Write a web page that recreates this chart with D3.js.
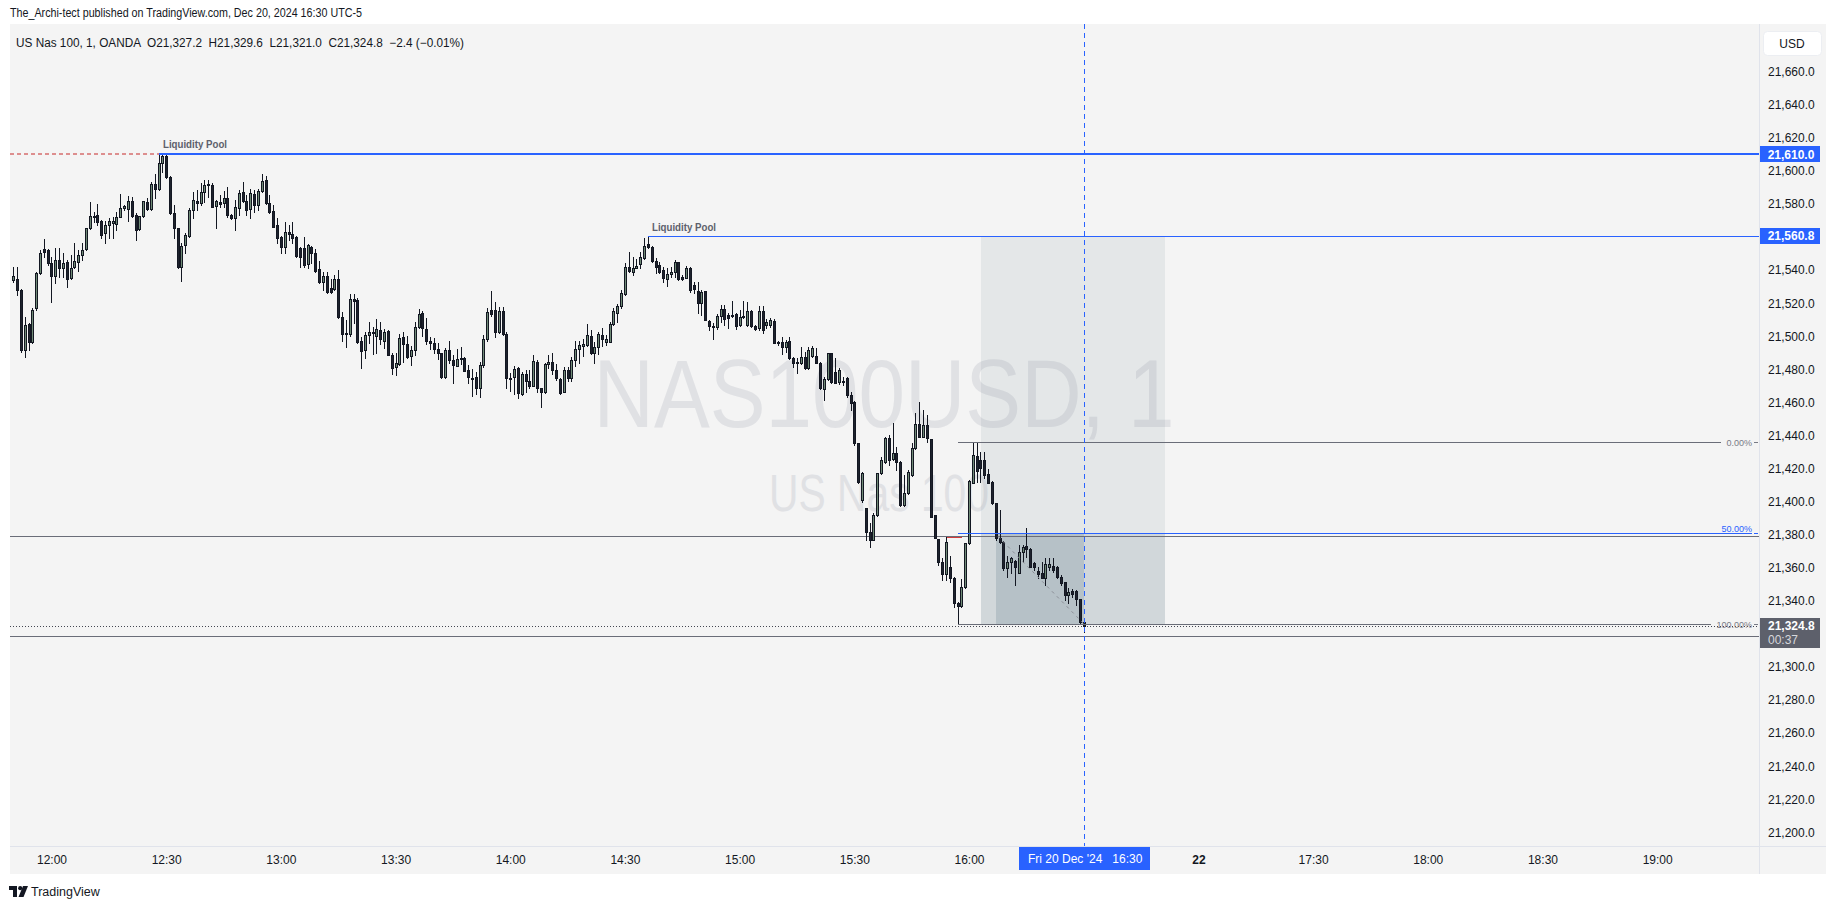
<!DOCTYPE html>
<html><head><meta charset="utf-8">
<script src="https://cdn.jsdelivr.net/npm/d3@7/dist/d3.min.js"></script>
<style>html,body{margin:0;padding:0;background:#fff;}svg{display:block;}</style>
</head><body>
<svg id="c" width="1835" height="909"></svg>
<script>
// ---------- DATA ----------
const startMinute = 710; // 11:50, one candle per minute
const open = [21534.0,21534.5,21528.0,21491.7,21507.2,21496.8,21516.9,21538.1,21552.8,21552.2,
21544.1,21536.7,21546.1,21541.5,21544.7,21535.1,21542.1,21545.1,21549.2,21552.8,
21565.3,21572.5,21573.4,21569.7,21562.3,21567.3,21568.3,21567.7,21572.4,21577.4,
21576.8,21581.8,21573.4,21564.7,21573.0,21581.0,21576.8,21591.9,21588.9,21604.6,
21609.0,21596.6,21574.4,21565.3,21542.1,21555.2,21560.9,21576.4,21581.8,21580.4,
21587.0,21591.3,21591.5,21579.0,21581.4,21580.8,21583.4,21573.3,21571.7,21577.4,
21587.5,21582.0,21576.8,21586.0,21579.4,21587.7,21594.5,21580.4,21575.8,21567.3,
21559.8,21554.2,21562.8,21561.6,21559.8,21553.2,21553.2,21543.5,21553.8,21550.2,
21540.5,21533.0,21536.4,21529.0,21528.4,21534.4,21511.5,21501.6,21501.2,21522.3,
21521.9,21497.1,21491.7,21500.8,21501.8,21500.4,21503.8,21497.3,21503.2,21488.7,
21481.6,21483.0,21499.3,21495.1,21488.2,21491.7,21505.8,21513.8,21504.2,21497.3,
21496.1,21492.3,21489.7,21475.5,21491.7,21485.6,21482.2,21487.0,21487.0,21479.6,
21474.8,21475.1,21468.5,21482.6,21498.3,21515.9,21515.9,21502.8,21515.3,21501.4,
21474.5,21475.1,21480.6,21465.1,21477.2,21472.9,21470.1,21484.6,21468.5,21466.5,
21483.2,21484.2,21479.6,21473.9,21466.5,21479.6,21475.0,21485.6,21492.1,21494.1,
21494.5,21500.1,21489.7,21493.3,21500.7,21496.3,21496.7,21507.2,21514.3,21518.3,
21525.5,21541.7,21539.1,21541.1,21543.5,21547.1,21555.8,21553.8,21545.7,21543.1,
21540.1,21534.6,21537.4,21539.1,21544.7,21535.6,21535.0,21541.1,21531.0,21527.6,
21519.9,21527.4,21509.2,21506.2,21505.8,21512.4,21516.5,21512.8,21512.9,21513.2,
21506.8,21511.8,21506.8,21515.5,21506.2,21504.8,21515.5,21506.8,21506.8,21509.2,
21496.1,21496.7,21493.3,21497.1,21487.0,21484.0,21484.0,21487.6,21480.6,21488.0,
21488.2,21484.0,21467.9,21473.9,21489.7,21478.6,21472.5,21472.8,21474.6,21464.5,
21460.4,21435.2,21401.0,21395.9,21381.8,21376.8,21391.9,21417.5,21424.2,21438.3,
21425.6,21429.2,21424.2,21398.0,21405.0,21416.1,21432.2,21446.7,21439.3,21446.3,
21437.7,21391.9,21377.2,21363.7,21356.0,21360.2,21353.6,21338.5,21337.1,21348.6,
21374.8,21411.5,21427.6,21425.2,21425.2,21416.5,21412.1,21399.0,21377.8,21375.8,
21360.0,21363.3,21364.1,21357.0,21369.3,21373.1,21371.1,21362.7,21358.0,21357.0,
21354.0,21360.6,21361.3,21360.2,21354.6,21351.4,21343.5,21345.9,21345.9,21340.9,
21327.2];
const high = [21542.1,21541.7,21528.5,21511.9,21508.0,21516.9,21539.0,21552.2,21558.9,21553.0,
21548.2,21553.2,21553.2,21550.2,21546.0,21549.2,21556.2,21552.2,21556.2,21565.3,
21581.0,21575.4,21579.8,21570.3,21569.7,21571.3,21572.4,21575.4,21585.9,21579.4,
21585.1,21584.5,21574.4,21573.0,21582.0,21583.4,21593.1,21598.0,21610.0,21609.6,
21609.6,21597.0,21579.4,21565.5,21556.2,21562.3,21577.4,21587.5,21588.5,21592.5,
21594.5,21594.5,21592.5,21582.4,21585.4,21588.0,21590.0,21574.0,21582.4,21588.5,
21593.0,21585.4,21589.0,21588.5,21588.9,21598.1,21596.9,21585.4,21579.4,21571.3,
21560.6,21569.3,21567.3,21569.3,21560.6,21554.2,21559.8,21555.6,21554.6,21552.6,
21545.5,21539.1,21539.1,21534.4,21537.1,21540.1,21514.5,21509.8,21525.6,21525.6,
21522.9,21499.8,21502.8,21508.4,21505.8,21510.4,21508.4,21504.4,21503.8,21489.7,
21489.7,21501.1,21502.4,21500.1,21494.3,21508.8,21516.5,21515.3,21510.8,21499.7,
21498.7,21495.7,21490.0,21492.7,21497.1,21488.7,21492.3,21493.7,21487.6,21482.6,
21480.0,21478.6,21484.6,21500.7,21516.9,21527.6,21520.9,21517.5,21517.5,21502.8,
21477.6,21482.0,21481.6,21478.6,21479.6,21479.6,21488.7,21485.6,21468.9,21484.0,
21488.7,21489.7,21483.2,21474.5,21481.6,21481.6,21487.6,21497.3,21497.3,21498.1,
21507.4,21503.8,21496.7,21502.8,21505.2,21500.7,21508.8,21516.9,21519.3,21528.0,
21544.1,21551.1,21547.7,21546.7,21551.1,21559.2,21560.8,21554.6,21547.1,21545.1,
21542.1,21541.1,21542.1,21546.1,21545.1,21537.0,21542.5,21542.1,21533.0,21532.6,
21528.0,21527.6,21509.8,21507.8,21513.4,21518.9,21518.9,21513.8,21521.3,21514.3,
21515.9,21521.5,21520.9,21515.9,21506.8,21518.3,21518.3,21510.2,21510.8,21510.2,
21497.3,21499.7,21497.7,21499.7,21487.6,21486.6,21493.7,21490.7,21493.7,21494.1,
21492.7,21484.2,21475.5,21490.1,21490.1,21486.6,21481.0,21475.5,21475.5,21466.5,
21461.0,21435.5,21418.1,21396.0,21386.9,21392.9,21417.5,21427.2,21439.3,21440.3,
21447.3,21433.2,21424.5,21416.1,21419.1,21435.2,21453.4,21460.4,21455.4,21452.4,
21438.0,21392.0,21377.5,21365.7,21378.8,21367.3,21354.6,21339.0,21353.2,21375.0,
21413.1,21436.2,21436.2,21430.2,21430.2,21419.7,21412.5,21399.2,21394.9,21376.0,
21367.3,21366.7,21364.7,21373.8,21373.8,21383.8,21371.7,21363.7,21360.2,21363.7,
21365.7,21366.1,21365.7,21361.1,21355.6,21351.6,21347.5,21346.9,21346.5,21341.0,
21329.6];
const low = [21533.0,21525.0,21490.3,21487.7,21491.7,21496.0,21516.0,21537.5,21548.2,21543.1,
21521.0,21532.0,21536.1,21536.1,21530.0,21534.5,21541.5,21539.5,21546.1,21552.0,
21565.0,21569.3,21567.3,21559.3,21556.2,21559.3,21559.3,21564.3,21572.0,21576.4,
21569.7,21572.4,21558.2,21564.0,21572.0,21576.4,21576.4,21583.4,21588.5,21599.6,
21595.5,21574.0,21559.3,21541.5,21533.4,21550.2,21560.3,21571.4,21576.4,21579.4,
21581.4,21584.4,21578.0,21565.3,21578.0,21578.4,21572.3,21571.0,21564.3,21573.3,
21581.4,21573.3,21571.3,21575.0,21576.4,21587.5,21580.0,21574.4,21566.0,21556.6,
21550.6,21550.2,21558.2,21556.6,21548.0,21542.1,21541.7,21541.1,21544.5,21539.1,
21532.0,21528.0,21526.0,21526.0,21528.0,21510.9,21497.3,21493.7,21500.4,21507.8,
21496.1,21480.6,21486.7,21495.7,21489.3,21489.7,21495.3,21493.1,21488.5,21477.2,
21476.6,21482.6,21484.6,21486.6,21482.6,21488.7,21504.8,21500.3,21495.3,21492.1,
21489.7,21486.0,21475.0,21475.0,21484.0,21471.5,21482.2,21483.2,21479.0,21471.9,
21464.1,21465.1,21463.5,21481.6,21497.3,21512.2,21499.3,21502.2,21501.0,21468.9,
21467.1,21465.1,21462.4,21464.5,21466.5,21468.5,21470.0,21466.5,21457.4,21465.9,
21480.6,21477.2,21473.5,21465.1,21466.0,21473.1,21473.1,21482.0,21483.6,21488.1,
21494.1,21489.3,21484.0,21489.3,21494.0,21494.7,21496.3,21506.8,21508.8,21516.9,
21524.9,21539.1,21537.0,21541.1,21541.1,21546.7,21553.2,21545.1,21538.1,21538.1,
21533.0,21530.4,21535.6,21535.6,21534.0,21534.0,21535.0,21527.0,21526.0,21514.3,
21512.8,21509.6,21503.8,21498.1,21504.4,21508.8,21506.8,21504.8,21511.8,21504.4,
21506.2,21510.8,21506.2,21505.8,21503.8,21503.8,21502.2,21504.8,21505.8,21495.7,
21494.5,21489.1,21490.7,21486.4,21481.6,21477.6,21483.2,21480.0,21480.4,21487.6,
21483.6,21468.3,21461.4,21473.5,21472.0,21471.5,21471.0,21470.5,21463.5,21455.4,
21434.2,21411.1,21400.0,21376.8,21372.8,21376.5,21391.5,21417.0,21423.2,21422.1,
21425.2,21419.1,21397.5,21397.5,21404.5,21415.7,21432.0,21439.0,21439.0,21436.3,
21390.5,21377.8,21361.7,21352.6,21352.6,21351.6,21336.5,21325.8,21336.0,21348.0,
21374.5,21411.1,21412.1,21412.1,21414.1,21411.1,21398.6,21376.8,21374.8,21358.6,
21354.6,21357.0,21349.6,21356.6,21363.7,21366.7,21360.2,21358.6,21354.0,21353.6,
21349.6,21358.6,21357.6,21353.6,21349.6,21340.5,21338.5,21342.5,21337.5,21326.4,
21321.0];
const close = [21536.7,21528.0,21491.7,21506.8,21496.8,21515.9,21538.1,21550.2,21550.8,21544.1,
21536.7,21546.1,21541.1,21544.1,21534.5,21541.5,21545.5,21549.2,21552.0,21565.3,
21572.8,21573.0,21569.3,21561.3,21567.3,21569.7,21570.0,21572.2,21577.4,21578.8,
21581.8,21573.0,21564.3,21572.8,21581.8,21576.8,21591.9,21588.9,21604.6,21609.0,
21596.6,21574.4,21565.3,21542.1,21554.6,21561.3,21576.4,21582.4,21580.4,21587.5,
21591.5,21591.9,21578.4,21582.0,21579.8,21583.4,21573.3,21571.7,21578.4,21586.9,
21582.0,21576.4,21586.4,21579.4,21587.7,21593.7,21580.4,21575.4,21566.3,21559.2,
21554.2,21563.2,21561.6,21559.2,21548.5,21548.1,21543.1,21555.2,21550.2,21539.7,
21533.0,21536.4,21527.0,21527.0,21534.4,21511.9,21501.2,21501.8,21522.3,21521.5,
21496.7,21491.3,21500.8,21502.4,21502.8,21504.4,21498.1,21502.4,21488.7,21481.0,
21483.6,21498.7,21495.1,21487.6,21491.7,21505.8,21513.2,21504.8,21497.3,21496.1,
21492.3,21489.7,21475.5,21491.7,21485.6,21482.6,21486.0,21486.4,21479.2,21475.5,
21474.5,21468.5,21482.6,21498.3,21514.5,21513.2,21502.8,21515.3,21501.2,21474.5,
21474.8,21480.0,21465.5,21477.2,21473.1,21470.1,21485.0,21468.5,21466.5,21483.2,
21484.6,21479.6,21474.5,21465.9,21479.6,21475.0,21485.6,21492.3,21494.7,21495.3,
21500.7,21489.7,21493.3,21501.4,21498.1,21498.3,21507.4,21515.5,21518.3,21526.0,
21541.7,21539.7,21541.1,21542.7,21547.7,21554.6,21553.8,21545.7,21542.1,21539.1,
21535.0,21537.6,21539.1,21545.1,21534.4,21534.4,21541.1,21528.0,21528.6,21519.9,
21527.0,21509.8,21506.4,21505.4,21512.4,21516.5,21510.4,21510.8,21512.8,21506.2,
21511.4,21512.5,21515.5,21506.4,21504.2,21515.5,21503.8,21508.8,21509.8,21496.1,
21496.3,21493.7,21496.7,21486.6,21484.0,21484.2,21487.6,21480.6,21491.7,21492.7,
21484.0,21468.5,21473.9,21489.7,21472.5,21471.9,21479.6,21472.3,21464.5,21459.5,
21435.2,21412.1,21417.1,21381.8,21376.8,21391.9,21417.1,21425.2,21438.3,21425.2,
21429.2,21424.2,21398.0,21405.0,21418.1,21432.2,21446.7,21439.3,21446.3,21438.3,
21390.9,21378.2,21363.7,21356.0,21375.8,21353.6,21338.5,21337.0,21348.2,21374.8,
21412.7,21428.2,21418.7,21420.1,21416.1,21411.5,21399.0,21377.8,21375.8,21360.0,
21363.3,21365.7,21360.6,21369.3,21372.3,21371.1,21360.6,21360.6,21356.0,21354.0,
21362.1,21362.3,21358.6,21354.2,21351.0,21343.5,21345.5,21344.1,21340.9,21327.0,
21324.8];

const priceTicks = [21200,21220,21240,21260,21280,21300,21340,21360,21380,21400,21420,21440,
  21460,21480,21500,21520,21540,21580,21600,21620,21640,21660];
const timeTicks = [720,750,780,810,840,870,900,930,960,1020,1050,1080,1110,1140];
const timeLabels = {1020:"22"};

const liquidityPools = [ {price:21610.0, fromBar:38, width:2, tag:"21,610.0"},
                         {price:21560.8, fromBar:166, width:1, tag:"21,560.8"} ];
const fibHigh = 21436.2, fibLow = 21325.8, fibFromBar = 247;
const fibLevels = [0, 0.5, 1];
const refLines = [21379.2, 21318.5];
const lastPrice = 21324.8, countdown = "00:37", cursorMinute = 990;
const boxFromMinute = 963.1, boxToMinute = 1011.2, boxTop = 21560.8;
const innerFromMinute = 967.0;

// ---------- LAYOUT ----------
const FONT = '"Liberation Sans", Arial, sans-serif';
const P = {l:10, r:1759, t:24, b:846};
const svg = d3.select("#c").attr("font-family", FONT);
const x = d3.scaleLinear().domain([709.145, 1166.64]).range([P.l, P.r]);
const y = d3.scaleLinear().domain([21191.72, 21688.85]).range([P.b, P.t]);
const barX = i => Math.round(x(startMinute + i));
const Y = p => Math.round(y(p)) + 0.5;

svg.append("rect").attr("width",1835).attr("height",909).attr("fill","#ffffff");
svg.append("rect").attr("x",10).attr("y",24).attr("width",1816).attr("height",850).attr("fill","#f4f4f4");

// header texts
svg.append("text").attr("x",10).attr("y",17).attr("font-size",12).attr("fill","#131722")
  .attr("textLength",352).attr("lengthAdjust","spacingAndGlyphs")
  .text("The_Archi-tect published on TradingView.com, Dec 20, 2024 16:30 UTC-5");

const clip = svg.append("clipPath").attr("id","pc").append("rect")
  .attr("x",P.l).attr("y",P.t).attr("width",P.r-P.l).attr("height",P.b-P.t);
const g = svg.append("g").attr("clip-path","url(#pc)");

// watermark
g.append("text").attr("x",884).attr("y",427).attr("text-anchor","middle").attr("font-size",97)
  .attr("fill","#e0e1e4").attr("textLength",581).attr("lengthAdjust","spacingAndGlyphs").text("NAS100USD, 1");
g.append("text").attr("x",879).attr("y",511).attr("text-anchor","middle").attr("font-size",52)
  .attr("fill","#e0e1e4").attr("textLength",220).attr("lengthAdjust","spacingAndGlyphs").text("US Nas 100");

// legend
svg.append("text").attr("x",16).attr("y",47).attr("font-size",12).attr("fill","#131722")
  .style("white-space","pre").attr("textLength",448).attr("lengthAdjust","spacingAndGlyphs")
  .text("US Nas 100, 1, OANDA  O21,327.2  H21,329.6  L21,321.0  C21,324.8  \u22122.4 (\u22120.01%)");

// shaded boxes
const bx0 = Math.round(x(boxFromMinute)), bx1 = Math.round(x(boxToMinute));
const bxi = Math.round(x(innerFromMinute)), bxc = Math.round(x(cursorMinute));
const fibMid = fibLow + (fibHigh-fibLow)*0.5;
g.append("rect").attr("x",bx0).attr("y",Math.round(y(boxTop))).attr("width",bx1-bx0)
  .attr("height",Math.round(y(fibLow))-Math.round(y(boxTop))).attr("fill","rgba(120,144,156,0.13)");
g.append("rect").attr("x",bx0).attr("y",Math.round(y(fibMid))).attr("width",bx1-bx0)
  .attr("height",Math.round(y(fibLow))-Math.round(y(fibMid))).attr("fill","rgba(120,144,156,0.18)");
g.append("rect").attr("x",bxi).attr("y",Math.round(y(fibMid))).attr("width",bxc-bxi)
  .attr("height",Math.round(y(fibLow))-Math.round(y(fibMid))).attr("fill","rgba(120,144,156,0.30)");

// reference lines
refLines.forEach(p => g.append("line").attr("x1",P.l).attr("x2",P.r).attr("y1",Y(p)).attr("y2",Y(p))
  .attr("stroke","#6a6d78").attr("stroke-width",1));
g.append("line").attr("x1",P.l).attr("x2",P.r).attr("y1",Y(lastPrice)).attr("y2",Y(lastPrice))
  .attr("stroke","#434651").attr("stroke-dasharray","1,2");

// candles
const idx = d3.range(open.length);
const cg = g.append("g");
cg.selectAll("line.w").data(idx).join("line").attr("class","w")
  .attr("x1",i=>barX(i)+0.5).attr("x2",i=>barX(i)+0.5)
  .attr("y1",i=>Math.round(y(high[i]))).attr("y2",i=>Math.round(y(low[i]))+1)
  .attr("stroke","#131722").attr("stroke-width",1);
cg.selectAll("rect.b").data(idx).join("rect").attr("class","b")
  .attr("x",i=>barX(i)-0.5).attr("width",2)
  .attr("y",i=>Math.round(y(Math.max(open[i],close[i])))+0.5)
  .attr("height",i=>Math.max(1, Math.round(y(Math.min(open[i],close[i])))-Math.round(y(Math.max(open[i],close[i])))))
  .attr("fill",i=> close[i]>=open[i] ? "#6f8a76" : "#1e222d")
  .attr("stroke","#131722").attr("stroke-width",1);

// liquidity pools
liquidityPools.forEach(lp => {
  const x0 = barX(lp.fromBar);
  const yy = lp.width===2 ? Math.round(y(lp.price)) : Y(lp.price);
  g.append("line").attr("x1",x0).attr("x2",P.r).attr("y1",yy).attr("y2",yy)
    .attr("stroke","#2962ff").attr("stroke-width",lp.width);
  g.append("text").attr("x",x0+4).attr("y",yy-6).attr("font-size",10.5).attr("font-weight","bold")
    .attr("fill","#5d606b").attr("textLength",64).attr("lengthAdjust","spacingAndGlyphs").text("Liquidity Pool");
});
g.append("line").attr("x1",P.l).attr("x2",barX(liquidityPools[0].fromBar)).attr("y1",Math.round(y(21610)))
  .attr("y2",Math.round(y(21610))).attr("stroke","#c62828").attr("stroke-dasharray","4,3");

// fib
const fx0 = barX(fibFromBar);
const fibColor = l => l===0.5 ? "#2962ff" : "#6a6d78";
const fibText = {0:"0.00%",0.5:"50.00%",1:"100.00%"};
const fibEnd = {0:1721,0.5:1752,1:1711};
fibLevels.forEach(l => {
  const p = fibHigh - (fibHigh-fibLow)*l;
  const yy = Y(p);
  g.append("line").attr("x1",fx0).attr("x2",fibEnd[l]).attr("y1",yy).attr("y2",yy)
    .attr("stroke",fibColor(l)).attr("stroke-width",1);
  g.append("text").attr("x",1752).attr("y",l===0.5? yy-1.5 : yy+3).attr("text-anchor","end").attr("font-size",9)
    .attr("fill",l===0.5?"#2962ff":"#787b86").text(fibText[l]);
  g.append("line").attr("x1",1754).attr("x2",1758).attr("y1",yy).attr("y2",yy).attr("stroke",l===0.5?"#2962ff":"#787b86");
});
g.append("line").attr("x1",947).attr("x2",962).attr("y1",537.5).attr("y2",537.5).attr("stroke","#d23c3c");
// dashed diagonal
g.append("line").attr("x1",barX(257)+2).attr("y1",y(21379)).attr("x2",barX(280)).attr("y2",y(21326))
  .attr("stroke","#8a8d96").attr("stroke-dasharray","3,4");

// cursor line
g.append("line").attr("x1",bxc+0.5).attr("x2",bxc+0.5).attr("y1",P.t).attr("y2",P.b)
  .attr("stroke","#2962ff").attr("stroke-dasharray","5,4");

// separators
svg.append("line").attr("x1",P.r+0.5).attr("x2",P.r+0.5).attr("y1",24).attr("y2",874).attr("stroke","#e0e3eb");
svg.append("line").attr("x1",10).attr("x2",1826).attr("y1",P.b+0.5).attr("y2",P.b+0.5).attr("stroke","#e0e3eb");

// price axis
const ya = svg.append("g").attr("transform",`translate(1768,0)`)
  .call(d3.axisRight(y).tickValues(priceTicks).tickFormat(d3.format(",.1f")).tickSize(0).tickPadding(0));
ya.select(".domain").remove();
ya.selectAll("text").attr("font-size",12).attr("fill","#131722").attr("font-family",FONT);

// USD button
svg.append("rect").attr("x",1763.5).attr("y",31.5).attr("width",58).attr("height",24).attr("rx",4)
  .attr("fill","#ffffff").attr("stroke","#eceef2");
svg.append("text").attr("x",1792).attr("y",48).attr("text-anchor","middle").attr("font-size",12)
  .attr("fill","#131722").text("USD");

// price tags
liquidityPools.forEach(lp => {
  const yy = y(lp.price);
  svg.append("rect").attr("x",1760).attr("y",Math.round(yy-8)).attr("width",60).attr("height",16).attr("fill","#2962ff");
  svg.append("text").attr("x",1791).attr("y",yy+4.5).attr("text-anchor","middle").attr("font-size",12)
    .attr("font-weight","bold").attr("fill","#fff").text(lp.tag);
});
{
  const yy = y(lastPrice);
  svg.append("rect").attr("x",1760).attr("y",Math.round(yy-8)).attr("width",60).attr("height",30).attr("fill","#5d606b");
  svg.append("text").attr("x",1768).attr("y",yy+4.5).attr("font-size",12).attr("font-weight","bold")
    .attr("fill","#fff").text(d3.format(",.1f")(lastPrice));
  svg.append("text").attr("x",1768).attr("y",yy+18.5).attr("font-size",12)
    .attr("fill","#d6d7db").text(countdown);
}

// time axis
const fmt = m => timeLabels[m] || (String(Math.floor(m/60)).padStart(2,"0")+":"+String(m%60).padStart(2,"0"));
const xa = svg.append("g").attr("transform",`translate(0,${P.b})`)
  .call(d3.axisBottom(x).tickValues(timeTicks).tickFormat(fmt).tickSize(0).tickPadding(9));
xa.select(".domain").remove();
xa.selectAll("text").attr("font-size",12).attr("fill","#131722").attr("font-family",FONT)
  .attr("font-weight",d=>timeLabels[d]?"bold":null);
// cursor time tag
svg.append("rect").attr("x",bxc-65).attr("y",847).attr("width",131).attr("height",23).attr("fill","#2962ff");
svg.append("text").attr("x",bxc-56).attr("y",863).attr("font-size",12).attr("fill","#fff")
  .style("white-space","pre").text("Fri 20 Dec '24   16:30");

// footer logo
const lg = svg.append("g").attr("fill","#131722");
lg.append("path").attr("d","M9,886 h8 v11 h-4 v-7 h-4 z");
lg.append("circle").attr("cx",20.2).attr("cy",888.2).attr("r",2.1);
lg.append("path").attr("d","M23,886 h5 l-4.5,11 h-5 z");
svg.append("text").attr("x",31).attr("y",896).attr("font-size",12.5).attr("fill","#131722").text("TradingView");
</script>
</body></html>
